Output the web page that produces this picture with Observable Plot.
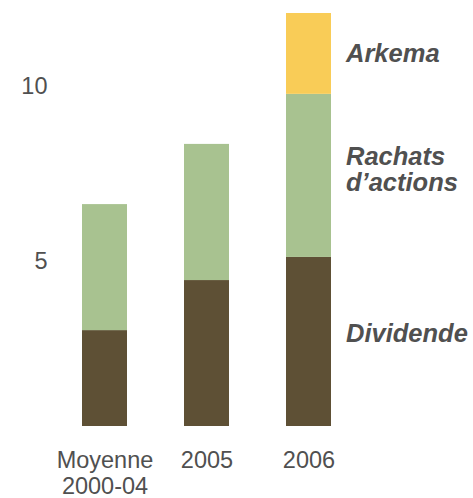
<!DOCTYPE html>
<html>
<head>
<meta charset="utf-8">
<script src="https://cdn.jsdelivr.net/npm/d3@7"></script>
<script src="https://cdn.jsdelivr.net/npm/@observablehq/plot@0.6"></script>
<style>
  html, body { margin: 0; padding: 0; background: #fff; }
  svg { display: block; }
</style>
</head>
<body>
<div id="chart"></div>
<script>
const categories = ["Moyenne\n2000-04", "2005", "2006"];
const series = ["Dividende", "Rachats\nd\u2019actions", "Arkema"];
const dividende = [2.74, 4.17, 4.83];
const rachats = [3.60, 3.89, 4.66];
const arkema = [0, 0, 2.31];
const yTicks = [5, 10];
const colors = ["#5e5035", "#a8c290", "#f9cc57"];

const values = [dividende, rachats, arkema];
const data = [];
series.forEach((s, si) => {
  categories.forEach((c, ci) => {
    data.push({cat: c, series: s, value: values[si][ci]});
  });
});

// labels at the middle of each segment of the last bar
const lastIdx = categories.length - 1;
let base = 0;
const labels = series.map((s, si) => {
  const v = values[si][lastIdx];
  const mid = base + v / 2;
  base += v;
  return {cat: categories[lastIdx], series: s, mid};
});

const textColor = "#505050";
const labelOpts = {
  x: "cat", y: "mid", text: "series", textAnchor: "start", dx: 37,
  fontSize: 25.5, fontWeight: "bold", fontStyle: "italic",
  fill: textColor, lineHeight: 1.0
};
const dys = [-8, -6, 0];

const chart = Plot.plot({
  width: 473,
  height: 498,
  marginLeft: 23.5,
  marginRight: 84.5,
  marginTop: 6,
  marginBottom: 72,
  style: {fontFamily: "'Liberation Sans', Arial, sans-serif", background: "#fff"},
  x: {domain: categories, padding: 0.561, label: null},
  y: {domain: [0, 12], label: null},
  color: {domain: series, range: colors},
  marks: [
    Plot.barY(data, Plot.stackY({x: "cat", y: "value", fill: "series", order: series})),
    Plot.axisY({ticks: yTicks, tickSize: 0, tickPadding: 0, dx: 23.5, dy: 10,
      fontSize: 23.5, fill: textColor, label: null}),
    Plot.axisX({tickSize: 0, tickPadding: 22, fontSize: 23.5, lineHeight: 1.14,
      fill: textColor, label: null}),
    ...series.map((s, si) => Plot.text([labels[si]], {...labelOpts, dy: dys[si]}))
  ]
});
document.getElementById("chart").appendChild(chart);
</script>
</body>
</html>
